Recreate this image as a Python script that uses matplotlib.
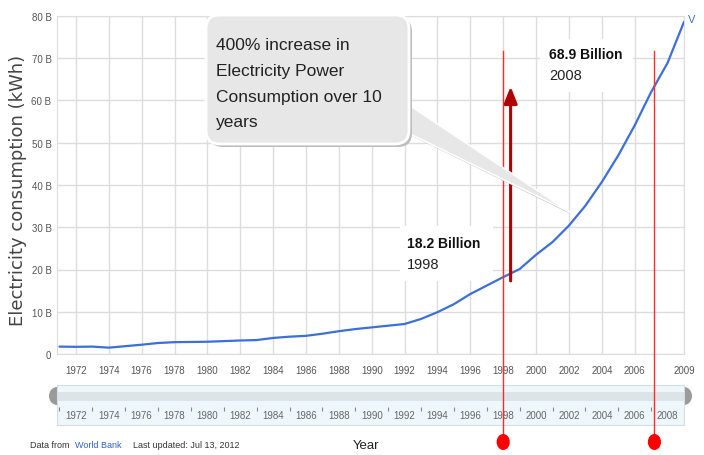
import matplotlib
matplotlib.use('Agg')
import matplotlib.pyplot as plt
from matplotlib import transforms
from matplotlib.lines import Line2D
from matplotlib.patches import FancyBboxPatch, Polygon, Ellipse, Rectangle

# Electricity consumption, billions of kWh
years = list(range(1971, 2010))
consumption = [1.75, 1.7, 1.75, 1.5, 1.85, 2.2, 2.6, 2.8, 2.85, 2.9,
               3.05, 3.2, 3.3, 3.8, 4.1, 4.3, 4.8, 5.4, 5.9, 6.3,
               6.7, 7.1, 8.3, 9.9, 11.8, 14.2, 16.2, 18.2, 20.1, 23.5,
               26.5, 30.4, 35.1, 40.7, 47.0, 54.1, 62.0, 68.9, 78.6]

tick_years = list(range(1972, 2007, 2)) + [2009]
slider_years = list(range(1972, 2009, 2))
slider_minor = list(range(1971, 2009, 2))
y_ticks = [0, 10, 20, 30, 40, 50, 60, 70, 80]
y_tick_labels = ['0'] + ['%d B' % v for v in y_ticks[1:]]

label_years = [1998, 2008]
label_values = [18.2, 68.9]
marker_years = [1998, 2007.2]
arrow_x = 1998.45
arrow_from, arrow_to = 17.3, 63.3

SANS = ['Liberation Sans', 'DejaVu Sans']
BLUE = '#3c6fd9'

W, H = 704, 456
fig = plt.figure(figsize=(W / 100, H / 100), dpi=100)
# pixel coordinates, origin top-left
px = transforms.Affine2D().scale(1 / W, -1 / H).translate(0, 1) + fig.transFigure

ax = fig.add_axes([57 / W, 1 - 355 / H, 627 / W, 338 / H])
ax.plot(years, consumption, color=BLUE, lw=1.6, zorder=3, solid_capstyle='round')
ax.set_xlim(1970.85, 2009.0)
ax.set_ylim(0, 80)
ax.set_xticks(tick_years, [str(y) for y in tick_years])
ax.set_yticks(y_ticks, y_tick_labels)
ax.set_axisbelow(True)
ax.grid(color='#dddddd', lw=1)
ax.tick_params(length=0, labelsize=7, labelcolor='#555555')
ax.tick_params(axis='x', pad=8)
ax.tick_params(axis='y', pad=4)
for lbl in ax.get_xticklabels() + ax.get_yticklabels():
    lbl.set_family(SANS)
for s in ax.spines.values():
    s.set_color('#dddddd')

fig.text(18, 190, 'Electricity consumption (kWh)', transform=px, rotation=90,
         ha='center', va='center', fontsize=13, color='#444444')
fig.text(688, 20, 'V', transform=px, ha='left', va='center', fontsize=8,
         color=BLUE, family=SANS)

# value labels on white boxes
boxes = [(400, 227, 93, 55), (540, 40, 93, 53)]
text_pos = [(407, 248), (549, 59)]
for (bx, by, bw, bh), (tx, ty), yr, val in zip(boxes, text_pos, label_years, label_values):
    ax.add_patch(Rectangle((bx, by), bw, bh, transform=px, fc='white', ec='none', zorder=2))
    fig.text(tx, ty, '%.1f Billion' % val, transform=px, fontsize=10,
             fontweight='bold', family=SANS, color='#111111', va='baseline')
    fig.text(tx, ty + 21, str(yr), transform=px, fontsize=10.5,
             family=SANS, color='#222222', va='baseline')

# red marker lines with dots below the axis
blend = transforms.blended_transform_factory(ax.transData, px)
for yr in marker_years:
    fig.add_artist(Line2D([yr, yr], [52, 440], transform=blend, color='#ff2a2a', lw=1, zorder=4))
    fig.add_artist(Ellipse((yr, 443), 0.8, 16, transform=blend, fc='#ff0000', ec='none', zorder=4))

ax.annotate('', xy=(arrow_x, arrow_to), xytext=(arrow_x, arrow_from),
            arrowprops=dict(arrowstyle='-|>,head_length=1.0,head_width=0.4',
                            mutation_scale=10, color='#b00000', lw=2.2,
                            shrinkA=0, shrinkB=0), zorder=4)

# callout bubble
tip_disp = ax.transData.transform((2002.05, 33.6))
tip = (tip_disp[0], H - tip_disp[1])
fig.add_artist(Polygon([(402, 102), (402, 132), (tip[0] + 1, tip[1] + 2)], closed=True,
                       transform=px, fc='#b9b9b9', ec='none', zorder=5))
fig.add_artist(Polygon([(400, 100), (400, 130), tip], closed=True,
                       transform=px, fc='#e7e7e7', ec='white', lw=1.2, zorder=5))
fig.add_artist(FancyBboxPatch((209, 19), 203, 129, boxstyle='round,pad=0,rounding_size=14',
                              transform=px, fc='#bdbdbd', ec='none', zorder=5))
fig.add_artist(FancyBboxPatch((206, 16), 203, 129, boxstyle='round,pad=0,rounding_size=14',
                              transform=px, fc='#e7e7e7', ec='white', lw=2, zorder=6))
fig.text(216, 38, '400% increase in\nElectricity Power\nConsumption over 10\nyears',
         transform=px, va='top', ha='left', fontsize=12.5, linespacing=1.9,
         family=SANS, color='#222222', zorder=7)

# range slider
ax_s = fig.add_axes([57 / W, 1 - 426 / H, 627 / W, 40 / H], facecolor='#eef7fc')
ax_s.set_xlim(ax.get_xlim())
ax_s.set_ylim(0, 1)
ax_s.axhspan(0.6, 0.83, color='#dde4e8', lw=0)
ax_s.vlines(slider_minor, 0.36, 0.45, color='#888888', lw=0.8)
for yr in slider_years:
    ax_s.text(yr, 0.24, str(yr), ha='center', va='center', fontsize=7,
              color='#666666', family=SANS)
ax_s.set_xticks([])
ax_s.set_yticks([])
for s in ax_s.spines.values():
    s.set_color('#d5dde2')
for hx in (57, 684):
    fig.add_artist(Ellipse((hx, 397), 16, 18, transform=px, fc='#9a9a9a', ec='none', zorder=-1))

fig.text(30, 446, 'Data from', transform=px, va='center', fontsize=6.5,
         family=SANS, color='#333333')
fig.text(75, 446, 'World Bank', transform=px, va='center', fontsize=6.5,
         family=SANS, color='#3060d0')
fig.text(133, 446, 'Last updated: Jul 13, 2012', transform=px, va='center', fontsize=6.5,
         family=SANS, color='#333333')
fig.text(366, 446, 'Year', transform=px, ha='center', va='center', fontsize=9.5,
         family=SANS, color='#222222')

fig.savefig('out.png', dpi=100)
